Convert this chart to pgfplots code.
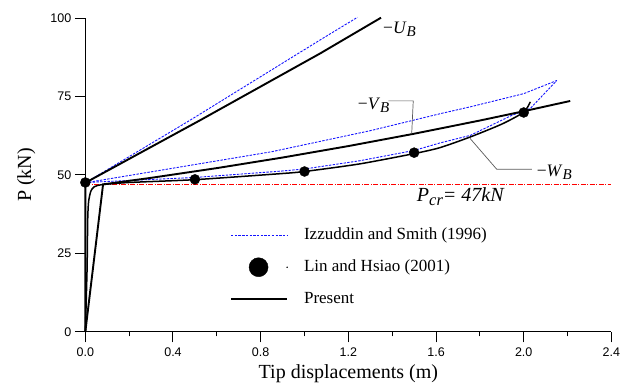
\documentclass[border=0pt]{standalone}
\usepackage{pgfplots}
\pgfplotsset{compat=1.18}
\usepackage{fontspec}
\setmainfont{Liberation Serif}
\setsansfont{Liberation Sans}
\definecolor{izblue}{RGB}{20,20,255}
\definecolor{pcrred}{RGB}{255,0,0}
\definecolor{leader}{RGB}{90,90,90}
\newcommand{\lab}[2]{\fontsize{17.5}{18}\selectfont\textminus\textit{#1}\raisebox{-2.7pt}{\fontsize{15}{15}\selectfont\textit{#2}}}
\begin{document}
\begin{tikzpicture}
\begin{axis}[
  scale only axis, width=525.8pt, height=313.7pt,
  xmin=0, xmax=2.4, ymin=0, ymax=100,
  axis lines=left, axis line style={-, line width=1.1pt},
  clip=false,
  xtick={0,0.4,0.8,1.2,1.6,2.0,2.4},
  minor xtick={0.2,0.6,1.0,1.4,1.8,2.2},
  ytick={0,25,50,75,100},
  tick align=outside,
  major tick length=10.5pt, minor tick length=4.5pt,
  tick style={black, line width=1pt},
  /pgf/number format/assume math mode=true,
  ticklabel style={font=\sffamily\fontsize{12.5}{14}\selectfont},
  xticklabel style={yshift=-2pt, /pgf/number format/.cd, fixed, fixed zerofill, precision=1},
  yticklabel style={/pgf/number format/.cd, fixed, precision=0},
  xlabel={Tip displacements (m)},
  ylabel={P (kN)},
  label style={font=\fontsize{20}{22}\selectfont},
  xlabel style={at={(axis description cs:0.5,-0.1476)}, anchor=base},
  ylabel style={at={(axis description cs:-0.103,0.5)}, anchor=base},
  legend style={draw=none, fill=none, at={(axis cs:0.646,20.6)}, anchor=west,
    font=\fontsize{17}{19}\selectfont, column sep=16pt, row sep=17pt,
    nodes={inner sep=0pt, text height=11.5pt, text depth=3.5pt}},
  legend cell align=left,
]
% Izzuddin and Smith (1996)
\addplot[izblue, line width=0.9pt, dash pattern=on 2.4pt off 1.3pt, forget plot] coordinates {
 (0,47.5) (0.477,67.4) (1.071,93.0) (1.241,100.2)};
\addplot[izblue, line width=0.9pt, dash pattern=on 2.4pt off 1.3pt, forget plot] coordinates {
 (0,47.5) (0.43,52.5) (0.85,57.4) (1.3,64.1) (1.618,69.5) (1.756,71.7) (2.0,75.9) (2.151,80.1)};
\addplot[izblue, line width=0.9pt, dash pattern=on 2.4pt off 1.3pt, forget plot] coordinates {
 (0,47.6) (0.5,49.2) (0.888,51.2) (1.0,51.9) (1.25,54.5) (1.5,57.8) (1.618,60.2) (1.756,62.6) (1.946,69.0) (2.03,71.2) (2.151,80.1)};
% Pcr line
\addplot[pcrred, line width=0.8pt, dash pattern=on 5pt off 1.5pt on 1pt off 1.5pt, forget plot] coordinates {(0,47) (2.4,47)};
% Present
\addplot[black, line width=1.9pt, forget plot] coordinates {
 (0,0) (0,47.5) (0.523,67.4) (1.071,88.7) (1.349,100.1)};
\addplot[black, line width=1.9pt, forget plot] coordinates {
 (0,0) (0.081,47) (0.3,49.08) (0.6,52.18) (0.9,55.55) (1.2,59.2) (1.5,63.13) (1.8,67.34) (2.0,70.3) (2.212,73.57)};
\addplot[black, line width=1.5pt, smooth, tension=0.4, forget plot] coordinates {
 (0,0) (0.008,20) (0.011,36) (0.015,41.5) (0.025,44.8) (0.04,46.2) (0.075,46.9) (0.2,47.6) (0.5,48.5) (0.888,50.4) (1.0,51.1) (1.25,53.5) (1.5,56.8) (1.618,58.7) (1.756,62.1) (1.9,66.2) (2.0,70.0) (2.03,73.3)};
% Lin and Hsiao (2001)
\addplot[only marks, mark=*, mark size=5pt, black, forget plot] coordinates {
 (0,47.6) (0.5,48.6) (1.0,51.1) (1.5,57.1) (2.0,69.9)};
% legend
\addlegendimage{legend image code/.code={\path[draw=none, fill=none] (0pt,-6pt) rectangle (56pt,6pt); \draw[izblue, line width=0.9pt, dash pattern=on 2.4pt off 1.3pt] (0pt,0pt) -- (56pt,0pt);}}
\addlegendentry{Izzuddin and Smith (1996)}
\addlegendimage{legend image code/.code={\path[draw=none, fill=none] (0pt,-6pt) rectangle (56pt,6pt); \fill[black, overlay] (27.5pt,0pt) circle (9.5pt); \fill[black] (56pt,0pt) circle (0.5pt);}}
\addlegendentry{Lin and Hsiao (2001)}
\addlegendimage{legend image code/.code={\path[draw=none, fill=none] (0pt,-6pt) rectangle (56pt,6pt); \draw[black, line width=1.9pt] (0pt,0pt) -- (56pt,0pt);}}
\addlegendentry{Present}
% annotations
\node[anchor=base west, inner sep=0pt] at (axis cs:1.358,95.1) {\lab{U}{B}};
\node[anchor=base west, inner sep=0pt] at (axis cs:1.243,70.8) {\lab{V}{B}};
\node[anchor=base west, inner sep=0pt] at (axis cs:2.059,49.4) {\lab{W}{B}};
\draw[leader, line width=0.7pt] (axis cs:1.382,73.6) -- (axis cs:1.496,73.6) -- (axis cs:1.489,63.2);
\draw[leader, line width=0.7pt] (axis cs:1.755,61.65) -- (axis cs:1.877,51.8) -- (axis cs:2.037,51.8);
\node[anchor=base west, inner sep=0pt, font=\fontsize{20}{22}\selectfont\itshape] at (axis cs:1.512,41.4) {P\raisebox{-3.5pt}{\fontsize{16.5}{17}\selectfont cr}= 47kN};
\coordinate (bbll) at (axis cs:-0.3892,-16.58);
\coordinate (bbur) at (axis cs:2.4757,105.74);
\end{axis}
\pgfresetboundingbox
\useasboundingbox (bbll) rectangle (bbur);
\end{tikzpicture}
\end{document}
